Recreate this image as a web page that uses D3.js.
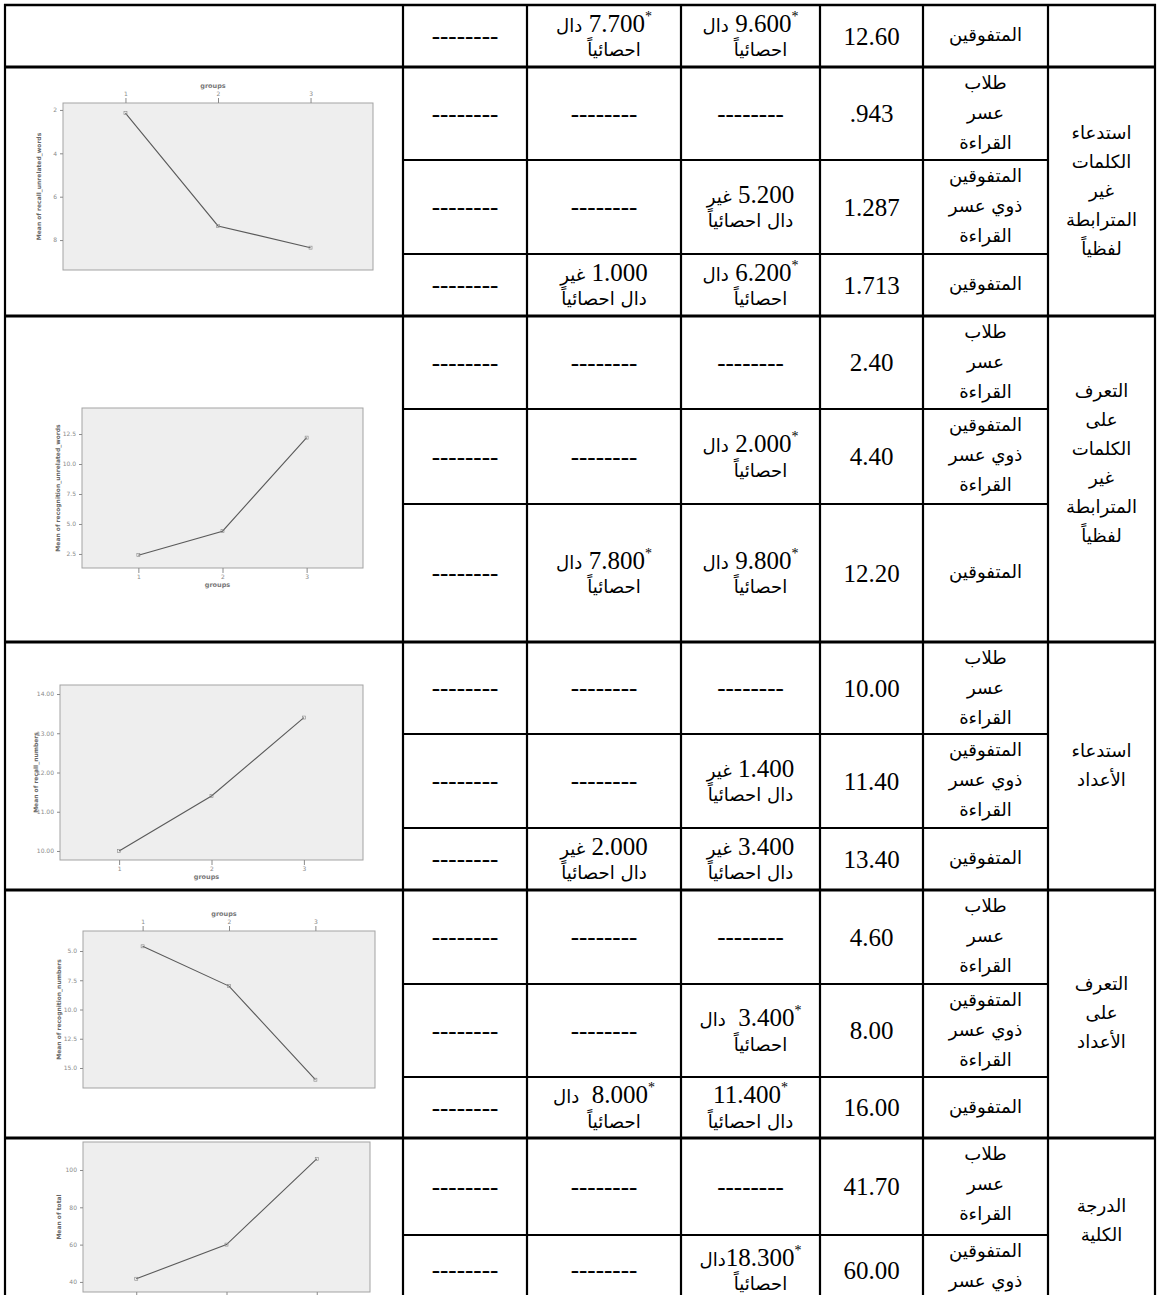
<!DOCTYPE html>
<html><head><meta charset="utf-8">
<script src="https://cdn.jsdelivr.net/npm/d3@7"></script>
<style>body{margin:0;background:#fff}svg{display:block}</style>
</head><body>
<svg id="c" width="1160" height="1295"></svg>
<script>
// ---------------- DATA ----------------
const variableLines = [
  [],
  ["استدعاء","الكلمات","غير","المترابطة","لفظياً"],
  ["التعرف","على","الكلمات","غير","المترابطة","لفظياً",""],
  ["استدعاء","الأعداد"],
  ["التعرف","على","الأعداد"],
  ["الدرجة","الكلية"]
];
const groupLabels = [["طلاب","عسر","القراءة"],["المتفوقين","ذوي عسر","القراءة"],["المتفوقين"]];
const rowGroup = [2, 0,1,2, 0,1,2, 0,1,2, 0,1,2, 0,1];
const rowVariable = [0, 1,1,1, 2,2,2, 3,3,3, 4,4,4, 5,5];
const means = ["12.60", ".943","1.287","1.713", "2.40","4.40","12.20", "10.00","11.40","13.40", "4.60","8.00","16.00", "41.70","60.00"];
const diffA = [9.6, null, 5.2, 6.2, null, 2.0, 9.8, null, 1.4, 3.4, null, 3.4, 11.4, null, 18.3];
const sigA  = [1, 0, 0, 1, 0, 1, 1, 0, 0, 0, 0, 1, 1, 0, 1];
const styleA = ["s","","n","s","","s","s","","n","n","","s2","sw","","sj"];
const diffB = [7.7, null, null, 1.0, null, null, 7.8, null, null, 2.0, null, null, 8.0, null, null];
const sigB  = [1, 0, 0, 0, 0, 0, 1, 0, 0, 0, 0, 0, 1, 0, 0];
const styleB = ["s","","","n","","","s","","","n","","","s2","",""];
const emptyMark = "--------";

// line charts (one per variable, variables 1..5)
const chartCats = [1, 2, 3];
const chartValues = [
  [2.15, 7.35, 8.35],
  [2.40, 4.40, 12.20],
  [10.00, 11.40, 13.40],
  [4.60, 8.00, 16.00],
  [41.70, 60.00, 106.0]
];
const chartTicks = [
  [2, 4, 6, 8],
  [2.5, 5.0, 7.5, 10.0, 12.5],
  [10, 11, 12, 13, 14],
  [5.0, 7.5, 10.0, 12.5, 15.0],
  [40, 60, 80, 100]
];
const chartYTitles = [
  "Mean of recall_unrelated_words",
  "Mean of recognition_unrelated_words",
  "Mean of recall_numbers",
  "Mean of recognition_numbers",
  "Mean of total"
];
const chartXTitle = "groups";

// ---------------- LAYOUT ----------------
const colX = [5, 403, 527, 681, 820, 923, 1048, 1155];
const rowY = [5, 67, 160, 254, 316, 409, 504, 642, 734, 828, 890, 984, 1077, 1138, 1235, 1305];
const varStartRows = [0, 1, 4, 7, 10, 13, 15];
const chartLayout = [
  {box:[63,103,373,270], dom:[1.68,9.38], rev:true,  top:true,  pad:0.675, fmt:"d", xlab:true},
  {box:[82,408,363,568], dom:[1.33,14.67], rev:false, top:false, pad:0.67, fmt:".1f", xlab:true},
  {box:[60,685,363,860], dom:[9.77,14.23], rev:false, top:false, pad:0.64, fmt:".2f", xlab:true},
  {box:[83,931,375,1088], dom:[3.29,16.71], rev:true, top:true, pad:0.69, fmt:".1f", xlab:true},
  {box:[83,1142,370,1292], dom:[34.6,115], rev:false, top:false, pad:0.59, fmt:"d", xlab:false}
];

const svg = d3.select("#c");
const numFamily = "'Liberation Serif','Times New Roman',serif";
const arFamily = "'DejaVu Sans',sans-serif";
const numSize = 25;

// calibrate arabic font size to the reference word width
const probe = svg.append("text").attr("font-family", arFamily).attr("font-size", 20).text("المتفوقين");
const pw = probe.node().getComputedTextLength();
probe.remove();
const arSize = Math.max(13, Math.min(24, 20 * 73 / (pw || 73)));

// ---------------- CHARTS ----------------
const chartLayer = svg.append("g");
chartValues.forEach((vals, i) => {
  const L = chartLayout[i];
  const [x0, y0, x1, y1] = L.box;
  const g = chartLayer.append("g");
  g.append("rect").attr("x", x0).attr("y", y0).attr("width", x1 - x0).attr("height", y1 - y0)
    .attr("fill", "#eeeeee").attr("stroke", "#a3a3a3").attr("stroke-width", 1);
  const x = d3.scalePoint().domain(chartCats).range([x0, x1]).padding(L.pad);
  const y = d3.scaleLinear().domain(L.dom).range(L.rev ? [y0, y1] : [y1, y0]);

  const xa = (L.top ? d3.axisTop(x) : d3.axisBottom(x)).tickSize(5).tickPadding(2);
  if (!L.xlab) xa.tickFormat(() => "");
  const xg = g.append("g").attr("transform", `translate(0,${L.top ? y0 : y1})`).call(xa);
  const ya = d3.axisLeft(y).tickValues(chartTicks[i]).tickSize(3).tickPadding(3).tickFormat(d3.format(L.fmt));
  const yg = g.append("g").attr("transform", `translate(${x0},0)`).call(ya);
  [xg, yg].forEach(a => {
    a.select(".domain").remove();
    a.selectAll(".tick line").attr("stroke", "#8a8a8a");
    a.selectAll(".tick text").attr("fill", "#8a8a8a").attr("font-size", 6).attr("font-family", "'DejaVu Sans',sans-serif");
  });
  if (L.xlab) {
    g.append("text")
      .attr("x", (x0 + x1) / 2 - 5)
      .attr("y", L.top ? y0 - 15 : y1 + 19)
      .attr("text-anchor", "middle").attr("font-size", 6.5).attr("font-weight", "bold")
      .attr("font-family", "'DejaVu Sans',sans-serif").attr("fill", "#777").text(chartXTitle);
  }
  g.append("text")
    .attr("transform", `translate(${x0 - 22},${(y0 + y1) / 2}) rotate(-90)`)
    .attr("text-anchor", "middle").attr("font-size", 6).attr("font-weight", "bold")
    .attr("font-family", "'DejaVu Sans',sans-serif").attr("fill", "#666").text(chartYTitles[i]);

  const pts = chartCats.map((c, k) => ({c, v: vals[k]}));
  g.append("path").datum(pts)
    .attr("d", d3.line().x(d => x(d.c)).y(d => y(d.v)))
    .attr("fill", "none").attr("stroke", "#5a5a5a").attr("stroke-width", 1.1);
  g.selectAll("rect.pt").data(pts).enter().append("rect").attr("class", "pt")
    .attr("x", d => x(d.c) - 1.5).attr("y", d => y(d.v) - 1.5).attr("width", 3).attr("height", 3)
    .attr("fill", "none").attr("stroke", "#888").attr("stroke-width", 0.6);
});

// ---------------- TEXT HELPERS ----------------
const textLayer = svg.append("g");
const ar = t => ({k: "ar", t});
const num = t => ({k: "num", t});
const sup = () => ({k: "sup", t: "*"});
const sp = n => ({k: "sp", n});

function drawLine(segs, cx, by, dx = 0) {
  const items = segs.map(s => {
    if (s.k === "sp") return {w: s.n * numSize * 0.25, s};
    const t = textLayer.append("text")
      .attr("font-family", s.k === "ar" ? arFamily : numFamily)
      .attr("font-size", s.k === "ar" ? arSize : s.k === "sup" ? 14 : numSize)
      .attr("fill", "#000").text(s.t);
    return {w: t.node().getComputedTextLength(), s, t};
  });
  const total = d3.sum(items, d => d.w);
  let xx = cx - total / 2 + dx;
  items.forEach(it => {
    if (it.t) it.t.attr("x", xx).attr("y", it.s.k === "sup" ? by - 11 : by);
    xx += it.w;
  });
}

const f3 = d3.format(".3f");
function diffLines(v, style) {
  const n = f3(v);
  if (style === "s")  return [[ar("دال"), sp(1), num(n), sup()], [ar("احصائياً")], 10];
  if (style === "s2") return [[ar("دال"), sp(2), num(n), sup()], [ar("احصائياً")], 10];
  if (style === "sw") return [[num(n), sup()], [ar("دال احصائياً")], 0];
  if (style === "sj") return [[ar("دال"), num(n), sup()], [ar("احصائياً")], 10];
  return [[ar("غير"), sp(1), num(n)], [ar("دال احصائياً")], 0];
}

// ---------------- TABLE CELLS ----------------
means.forEach((m, r) => {
  const top = rowY[r], bot = rowY[r + 1], c = (top + bot) / 2;
  drawLine([num(m)], (colX[4] + colX[5]) / 2, c + 8.5);
  const gl = groupLabels[rowGroup[r]];
  const gc = gl.length === 3 ? top + 47 : c;
  gl.forEach((t, k) => drawLine([ar(t)], (colX[5] + colX[6]) / 2, gc + (k - (gl.length - 1) / 2) * 30 + 5));
  [[diffA, styleA, 3], [diffB, styleB, 2]].forEach(([vals, styles, ci]) => {
    const cx = (colX[ci] + colX[ci + 1]) / 2;
    if (vals[r] == null) { drawLine([num(emptyMark)], cx, c + 8); return; }
    const [l1, l2, dx2] = diffLines(vals[r], styles[r]);
    drawLine(l1, cx, c - 4.5);
    drawLine(l2, cx, c + 20, dx2);
  });
  drawLine([num(emptyMark)], (colX[1] + colX[2]) / 2, c + 8);
});

variableLines.forEach((lines, v) => {
  const top = rowY[varStartRows[v]], bot = rowY[varStartRows[v + 1]];
  const c = (top + bot) / 2;
  lines.forEach((t, k) => {
    if (!t) return;
    drawLine([ar(t)], (colX[6] + colX[7]) / 2, c + (k - (lines.length - 1) / 2) * 29 + 5);
  });
});

// ---------------- GRID LINES ----------------
const grid = svg.append("g").attr("stroke", "#000");
const isGroupEdge = r => varStartRows.includes(r);
grid.append("line").attr("x1", colX[0] - 1).attr("x2", colX[7] + 1).attr("y1", rowY[0]).attr("y2", rowY[0]).attr("stroke-width", 2.5);
rowY.slice(1, 15).forEach((y, k) => {
  const r = k + 1;
  const edge = isGroupEdge(r);
  grid.append("line")
    .attr("x1", edge ? colX[0] - 1 : colX[1]).attr("x2", edge ? colX[7] + 1 : colX[6])
    .attr("y1", y).attr("y2", y).attr("stroke-width", edge ? 3 : 2);
});
colX.forEach(x => {
  grid.append("line").attr("x1", x).attr("x2", x).attr("y1", rowY[0] - 1).attr("y2", 1300).attr("stroke-width", 2.2);
});
</script>
</body></html>
